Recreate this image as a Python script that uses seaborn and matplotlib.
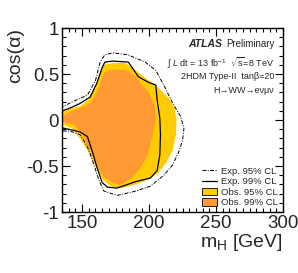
"""
ATLAS 2HDM Type-II exclusion in the (m_H, cos(alpha)) plane
"""

import pandas as pd
import numpy as np

import matplotlib
matplotlib.use('Agg')
import matplotlib.pyplot as plt
from matplotlib.lines import Line2D
from matplotlib.patches import Patch
from matplotlib.ticker import MultipleLocator, FixedLocator, FixedFormatter
import seaborn as sns

# --- data (m_H in GeV, cos(alpha)) ---
obs99_mh = [132, 135, 141, 148.5, 156, 161, 165, 167, 173, 184, 190, 199.5, 204, 205,
            203, 201, 198, 193.5, 188, 178.5, 173, 166, 161, 156, 150, 144, 135, 132]
obs99_cos = [0.03, 0.03, 0.09, 0.13, 0.18, 0.30, 0.46, 0.52, 0.55, 0.54, 0.47, 0.30, 0.16, 0.02,
             -0.13, -0.27, -0.41, -0.52, -0.62, -0.71, -0.68, -0.62, -0.49, -0.33, -0.16, -0.05, -0.02, -0.02]

obs95_mh = [132, 135, 141, 148.5, 154.5, 160, 163.5, 166.5, 173, 182, 187.5, 197, 207, 214.5, 219,
            220.5, 220, 217.5, 213, 207, 199.5, 190, 180, 172.5, 166, 160.5, 154.5, 148.5, 142.5, 135, 132]
obs95_cos = [0.09, 0.09, 0.12, 0.15, 0.22, 0.35, 0.52, 0.60, 0.62, 0.62, 0.57, 0.46, 0.35, 0.24, 0.13,
             0.0, -0.16, -0.33, -0.46, -0.57, -0.65, -0.70, -0.74, -0.73, -0.66, -0.51, -0.34, -0.20, -0.09, -0.05, -0.05]

exp99_mh = [133.5, 141, 148.5, 156, 161, 165, 167, 173, 184.5, 192, 199.5, 205, 206, 208, 208.5,
            208, 206, 201, 190, 176, 169, 165, 161, 158, 154, 148.5, 143, 133.5]
exp99_cos = [0.09, 0.13, 0.18, 0.25, 0.40, 0.57, 0.63, 0.64, 0.63, 0.47, 0.41, 0.38, 0.22, 0.02, -0.16,
             -0.38, -0.55, -0.63, -0.67, -0.74, -0.73, -0.68, -0.51, -0.36, -0.18, -0.13, -0.11, -0.08]

exp95_mh = [133.5, 143, 154, 160, 163.5, 167, 173, 184, 197, 205, 212, 218, 223.5, 226, 225, 222,
            217.5, 211, 201, 188, 176, 166, 162, 159, 154, 148.5, 141, 133.5]
exp95_cos = [0.13, 0.20, 0.27, 0.43, 0.63, 0.71, 0.73, 0.71, 0.63, 0.54, 0.35, 0.17, 0.04, -0.09, -0.22, -0.35,
             -0.49, -0.60, -0.72, -0.78, -0.82, -0.77, -0.63, -0.49, -0.29, -0.16, -0.12, -0.12]

x_ticks = [150, 200, 250, 300]
y_ticks = [-1, -0.5, 0, 0.5, 1]
y_tick_labels = ['-1', '-0.5', '0', '0.5', '1']
legend_labels = ['Exp. 95% CL', 'Exp. 99% CL', 'Obs. 95% CL', 'Obs. 99% CL']

YELLOW = '#FFCC00'
ORANGE = '#FF9933'


def main():
    sns.set_theme(style="ticks")
    plt.rcParams['font.family'] = ['Liberation Sans', 'DejaVu Sans']
    plt.rcParams['mathtext.fontset'] = 'custom'
    plt.rcParams['mathtext.rm'] = 'Liberation Sans'
    plt.rcParams['mathtext.it'] = 'Liberation Sans:italic'

    fig = plt.figure(figsize=(2.98, 2.73), dpi=100)
    ax = fig.add_axes([0.208, 0.2234, 0.742, 0.674])

    ax.fill(obs95_mh, obs95_cos, color=YELLOW, lw=0, zorder=1)
    ax.fill(obs99_mh, obs99_cos, color=ORANGE, lw=0, zorder=2)

    exp95 = pd.DataFrame({'mh': exp95_mh, 'cos': exp95_cos})
    exp99 = pd.DataFrame({'mh': exp99_mh, 'cos': exp99_cos})
    sns.lineplot(data=exp95, x='mh', y='cos', sort=False, estimator=None, ax=ax,
                 color='black', lw=0.7, linestyle=(0, (4, 1.5, 1, 1.5)), zorder=3)
    sns.lineplot(data=exp99, x='mh', y='cos', sort=False, estimator=None, ax=ax,
                 color='black', lw=0.9, zorder=3)

    ax.set_xlim(135, 300)
    ax.set_ylim(-1, 1)

    ax.xaxis.set_major_locator(FixedLocator(x_ticks))
    ax.xaxis.set_minor_locator(MultipleLocator(5))
    ax.yaxis.set_major_locator(FixedLocator(y_ticks))
    ax.yaxis.set_major_formatter(FixedFormatter(y_tick_labels))
    ax.yaxis.set_minor_locator(MultipleLocator(0.1))
    ax.tick_params(which='both', direction='in', top=True, right=True,
                   color='black', width=0.8, labelsize=13.5, pad=2)
    ax.tick_params(which='major', length=6)
    ax.tick_params(which='minor', length=3)
    for s in ax.spines.values():
        s.set_color('black')
        s.set_linewidth(1.0)

    ax.set_xlabel('m$_{\\mathrm{H}}$ [GeV]', loc='right', fontsize=14, labelpad=0)
    ax.set_ylabel('cos(α)', loc='top', fontsize=14, labelpad=2)

    # ATLAS label block
    ax.text(0.96, 0.915, 'Preliminary', transform=ax.transAxes, ha='right', va='center', fontsize=7)
    ax.text(0.725, 0.915, 'ATLAS', transform=ax.transAxes, ha='right', va='center',
            fontsize=7.5, fontweight='bold', fontstyle='italic')
    ax.text(0.96, 0.81, '$\\int$ $L$ dt = 13 fb$^{-1}$  $\\sqrt{\\mathrm{s}}$=8 TeV',
            transform=ax.transAxes, ha='right', va='center', fontsize=6.5)
    ax.text(0.96, 0.735, '2HDM Type-II  tanβ=20', transform=ax.transAxes,
            ha='right', va='center', fontsize=6.5)
    ax.text(0.96, 0.66, 'H→WW→eνμν', transform=ax.transAxes,
            ha='right', va='center', fontsize=6.5)

    handles = [
        Line2D([], [], color='black', lw=0.7, linestyle=(0, (4, 1.5, 1, 1.5))),
        Line2D([], [], color='black', lw=0.9),
        Patch(facecolor=YELLOW, edgecolor='black', lw=0.6),
        Patch(facecolor=ORANGE, edgecolor='black', lw=0.6),
    ]
    ax.legend(handles, legend_labels, loc='lower right', bbox_to_anchor=(0.975, 0.025),
              frameon=False, fontsize=6.8, handlelength=1.6, handleheight=0.9,
              handletextpad=0.4, labelspacing=0.15, borderpad=0, borderaxespad=0)

    plt.savefig('out.png', dpi=100)
    plt.close()


if __name__ == "__main__":
    main()
